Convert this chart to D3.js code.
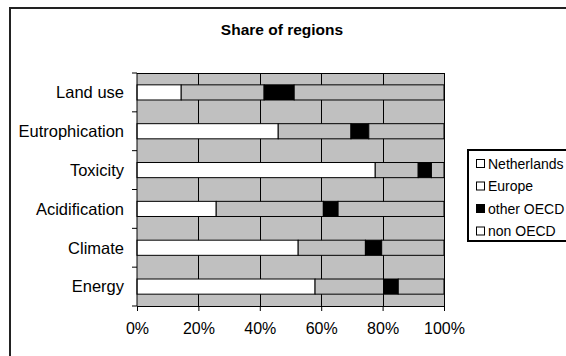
<!DOCTYPE html>
<html>
<head>
<meta charset="utf-8">
<script src="https://cdn.jsdelivr.net/npm/d3@7"></script>
<style>
  html, body { margin: 0; padding: 0; background: #fff; }
  svg { display: block; font-family: "Liberation Sans", Arial, sans-serif; }
</style>
</head>
<body>
<svg id="chart" width="566" height="356"></svg>
<script>
// Impact categories, top to bottom
const categories = ["Land use", "Eutrophication", "Toxicity", "Acidification", "Climate", "Energy"];
// Regional shares (%) per category
const netherlands = [14.4, 46.0, 77.6, 25.8, 52.5, 58.0];
const europe      = [27.0, 23.7, 14.0, 34.9, 21.9, 22.3];
const otherOECD   = [ 9.8,  5.8,  4.3,  4.8,  5.3,  4.8];
const nonOECD     = [48.8, 24.5,  4.1, 34.5, 20.3, 14.9];
const seriesNames = ["Netherlands", "Europe", "other OECD", "non OECD"];
const xTicks = [0, 0.2, 0.4, 0.6, 0.8, 1.0];

const barFill    = { "Netherlands": "#ffffff", "Europe": "#c0c0c0", "other OECD": "#000000", "non OECD": "#c0c0c0" };
const legendFill = { "Netherlands": "#ffffff", "Europe": "#ffffff", "other OECD": "#000000", "non OECD": "#ffffff" };

const rows = categories.map((c, i) => ({
  category: c,
  "Netherlands": netherlands[i],
  "Europe": europe[i],
  "other OECD": otherOECD[i],
  "non OECD": nonOECD[i]
}));

const stacked = d3.stack().keys(seriesNames).offset(d3.stackOffsetExpand)(rows);

const svg = d3.select("#chart");
const plot = { left: 137, right: 444, top: 73, bottom: 306 };

// chart frame
svg.append("rect")
  .attr("x", 10).attr("y", 8).attr("width", 600).attr("height", 400)
  .attr("fill", "#fff").attr("stroke", "#222").attr("stroke-width", 2);

// title
svg.append("text")
  .attr("x", 282).attr("y", 35)
  .attr("text-anchor", "middle")
  .attr("font-size", 15.5).attr("font-weight", "bold")
  .text("Share of regions");

const x = d3.scaleLinear().domain([0, 1]).range([plot.left, plot.right]);
const y = d3.scaleBand().domain(categories).range([plot.top, plot.bottom])
  .paddingInner(0.61).paddingOuter(0.305);

// plot background
svg.append("rect")
  .attr("x", plot.left).attr("y", plot.top)
  .attr("width", plot.right - plot.left).attr("height", plot.bottom - plot.top)
  .attr("fill", "#c0c0c0");

// vertical gridlines
svg.append("g").selectAll("line")
  .data(xTicks.slice(1))
  .join("line")
  .attr("x1", d => Math.round(x(d)) + 0.5).attr("x2", d => Math.round(x(d)) + 0.5)
  .attr("y1", plot.top).attr("y2", plot.bottom)
  .attr("stroke", "#000").attr("stroke-width", 1);

// plot border (top)
svg.append("line")
  .attr("x1", plot.left).attr("x2", plot.right + 1)
  .attr("y1", plot.top + 0.5).attr("y2", plot.top + 0.5)
  .attr("stroke", "#000");

// stacked bars
svg.append("g").selectAll("g")
  .data(stacked)
  .join("g")
  .attr("fill", d => barFill[d.key])
  .selectAll("rect")
  .data(d => d.map(v => ({ v, cat: v.data.category })))
  .join("rect")
  .attr("x", d => x(d.v[0]))
  .attr("y", d => y(d.cat))
  .attr("width", d => x(d.v[1]) - x(d.v[0]))
  .attr("height", y.bandwidth())
  .attr("stroke", "#000").attr("stroke-width", 1);

// x axis
const xAxis = d3.axisBottom(x).tickValues(xTicks).tickFormat(d3.format(".0%"))
  .tickSizeInner(5).tickSizeOuter(0).tickPadding(12);
const gx = svg.append("g").attr("transform", `translate(0,${plot.bottom})`).call(xAxis);
gx.select(".domain").attr("stroke", "#000");
gx.selectAll("text").attr("font-size", 16).attr("fill", "#000")
  .style("font-family", "'Liberation Sans', Arial, sans-serif");

// y axis: ticks at category boundaries
const gy = svg.append("g");
gy.append("line")
  .attr("x1", plot.left).attr("x2", plot.left)
  .attr("y1", plot.top).attr("y2", plot.bottom)
  .attr("stroke", "#000");
const boundaries = d3.range(categories.length + 1).map(i => plot.top + i * y.step());
gy.selectAll("line.tick")
  .data(boundaries)
  .join("line")
  .attr("class", "tick")
  .attr("x1", plot.left - 5).attr("x2", plot.left)
  .attr("y1", d => d).attr("y2", d => d)
  .attr("stroke", "#000");
gy.selectAll("text")
  .data(categories)
  .join("text")
  .attr("x", 124)
  .attr("y", d => y(d) + y.bandwidth() / 2)
  .attr("dy", "0.35em")
  .attr("text-anchor", "end")
  .attr("font-size", 16.5)
  .text(d => d);

// legend
const lg = svg.append("g");
lg.append("rect")
  .attr("x", 468).attr("y", 150).attr("width", 140).attr("height", 91)
  .attr("fill", "#fff").attr("stroke", "#000").attr("stroke-width", 2);
const items = lg.selectAll("g.item")
  .data(seriesNames)
  .join("g")
  .attr("class", "item")
  .attr("transform", (d, i) => `translate(476,${164 + i * 22.5})`);
items.append("rect")
  .attr("x", 0.5).attr("y", -4.5).attr("width", 8).attr("height", 8)
  .attr("fill", d => legendFill[d]).attr("stroke", "#000");
items.append("text")
  .attr("x", 12).attr("y", 0).attr("dy", "0.35em")
  .attr("font-size", 14)
  .text(d => d);
</script>
</body>
</html>
